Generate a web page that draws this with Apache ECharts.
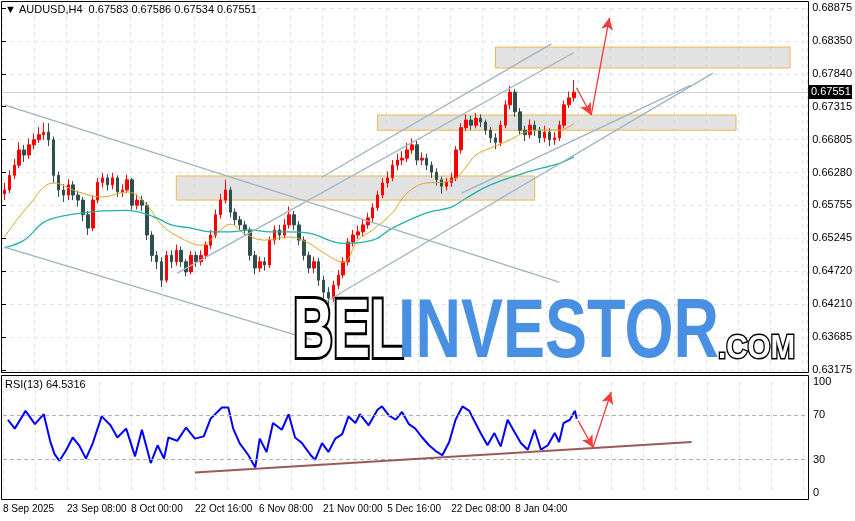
<!DOCTYPE html>
<html><head><meta charset="utf-8">
<script src="https://cdn.jsdelivr.net/npm/echarts@6/dist/echarts.min.js"></script>
<style>html,body{margin:0;padding:0;background:#fff}#c{width:855px;height:521px}</style>
</head><body><div id="c"></div>
<script>
const priceLabels=['0.63175','0.63685','0.64210','0.64720','0.65245','0.65755','0.66280','0.66805','0.67315','0.67840','0.68350','0.68875'];
const timeLabels=['8 Sep 2025','23 Sep 08:00','8 Oct 00:00','22 Oct 16:00','6 Nov 08:00','21 Nov 00:00','5 Dec 16:00','22 Dec 08:00','8 Jan 04:00'];
const opens=[.6595,.6601,.6624,.6640,.6664,.6656,.6672,.6680,.6688,.6692,.6680,.6624,.6601,.6593,.6609,.6593,.6585,.6562,.6541,.6585,.6613,.6620,.6609,.6620,.6598,.6601,.6617,.6577,.6585,.6577,.6530,.6498,.6488,.6459,.6498,.6488,.6506,.6488,.6472,.6498,.6488,.6498,.6514,.6530,.6562,.6585,.6601,.6566,.6554,.6546,.6538,.6498,.6478,.6488,.6483,.6522,.6538,.6530,.6546,.6562,.6546,.6522,.6498,.6478,.6488,.6459,.6440,.6431,.6451,.6467,.6488,.6519,.6530,.6535,.6546,.6557,.6573,.6593,.6612,.6620,.6640,.6648,.6651,.6664,.6672,.6648,.6651,.6640,.6629,.6617,.6607,.6613,.6620,.6664,.6699,.6711,.6703,.6714,.6708,.6695,.6683,.6676,.6703,.6735,.6755,.6724,.6695,.6688,.6703,.6695,.6683,.6692,.6680,.6683,.6703,.6735,.6746];
const closes=[.6601,.6624,.6640,.6664,.6656,.6672,.6680,.6688,.6692,.6680,.6624,.6601,.6593,.6609,.6593,.6585,.6562,.6541,.6585,.6613,.6620,.6609,.6620,.6598,.6601,.6617,.6577,.6585,.6577,.6530,.6498,.6488,.6459,.6498,.6488,.6506,.6488,.6472,.6498,.6488,.6498,.6514,.6530,.6562,.6585,.6601,.6566,.6554,.6546,.6538,.6498,.6478,.6488,.6483,.6522,.6538,.6530,.6546,.6562,.6546,.6522,.6498,.6478,.6488,.6459,.6440,.6431,.6451,.6467,.6488,.6519,.6530,.6535,.6546,.6557,.6573,.6593,.6612,.6620,.6640,.6648,.6651,.6664,.6672,.6648,.6651,.6640,.6629,.6617,.6607,.6613,.6620,.6664,.6699,.6711,.6703,.6714,.6708,.6695,.6683,.6676,.6703,.6735,.6755,.6724,.6695,.6688,.6703,.6695,.6683,.6692,.6680,.6683,.6703,.6735,.6746,.6755];
const highs=[.6612,.6632,.6650,.6676,.6672,.6682,.6690,.6700,.6707,.6706,.6685,.6630,.6610,.6618,.6615,.6600,.6590,.6568,.6592,.6620,.6628,.6626,.6628,.6624,.6610,.6625,.6620,.6594,.6592,.6582,.6536,.6505,.6495,.6505,.6506,.6515,.6512,.6492,.6505,.6504,.6506,.6520,.6538,.6570,.6595,.6617,.6606,.6572,.6560,.6552,.6542,.6505,.6496,.6495,.6528,.6545,.6546,.6555,.6575,.6568,.6552,.6528,.6504,.6496,.6494,.6466,.6448,.6458,.6475,.6495,.6525,.6538,.6545,.6555,.6565,.6580,.6600,.6620,.6630,.6648,.6658,.6662,.6675,.6682,.6678,.6660,.6658,.6646,.6635,.6622,.6620,.6628,.6670,.6706,.6720,.6718,.6722,.6720,.6712,.6700,.6690,.6710,.6742,.6765,.6760,.6730,.6702,.6712,.6710,.6700,.6702,.6698,.6692,.6710,.6742,.6756,.6774];
const lows=[.6585,.6596,.6618,.6635,.6645,.6650,.6665,.6675,.6680,.6670,.6612,.6590,.6582,.6585,.6585,.6575,.6552,.6530,.6536,.6580,.6605,.6600,.6602,.6590,.6590,.6596,.6570,.6570,.6568,.6522,.6488,.6476,.6448,.6455,.6478,.6482,.6480,.6465,.6468,.6480,.6482,.6492,.6508,.6525,.6556,.6580,.6558,.6546,.6538,.6530,.6490,.6468,.6472,.6474,.6478,.6515,.6522,.6525,.6540,.6538,.6514,.6490,.6470,.6470,.6450,.6430,.6420,.6425,.6445,.6462,.6482,.6512,.6524,.6528,.6540,.6550,.6568,.6588,.6605,.6615,.6632,.6640,.6645,.6658,.6640,.6640,.6632,.6620,.6608,.6595,.6600,.6606,.6615,.6658,.6694,.6695,.6698,.6700,.6688,.6675,.6665,.6670,.6698,.6728,.6716,.6688,.6678,.6682,.6686,.6675,.6676,.6670,.6672,.6678,.6698,.6730,.6740];
const maFastIdx=[0,5,10,15,20,25,29,32,36,40,44,46,49,53,58,62,65,69,72,75,79,82,86,89,92,94,96,99,103,106,109,113,116];
const maFast=[.6527,.6577,.6612,.6598,.6590,.6598,.6577,.6546,.6525,.6514,.6538,.6547,.6532,.6522,.6527,.6517,.6502,.6487,.6522,.6538,.6565,.6596,.6612,.6613,.6620,.6637,.6656,.6667,.6680,.6692,.6695,.6695,.6706];
const maSlowIdx=[0,4,8,12,16,20,25,28,31,34,38,42,46,50,54,58,62,69,75,79,86,91,94,99,106,113,116];
const maSlow=[.6510,.6522,.6550,.6560,.6565,.6568,.6569,.6565,.6557,.6546,.6541,.6535,.6535,.6538,.6535,.6535,.6533,.6517,.6522,.6541,.6565,.6574,.6588,.6609,.6628,.6643,.6653];
const rsiIdx=[0.5,1.9,4.1,6,7.8,9.1,10,11,12.3,13.7,15,16.4,17.8,19.6,21.4,22.8,24.6,26.4,27.8,29.6,31,32.3,33.2,35,36.8,38.6,40.4,41.8,44.1,45.4,46.4,47.7,49.5,50.9,51.8,53.2,54.5,56.3,57.7,59,60.4,62.2,63.1,64.5,65.8,67.2,68.6,69.9,71.3,72.2,74,75.8,76.7,78.1,79.5,80.8,82.2,83.5,84.9,86.3,87.6,89,90.4,91.7,93.1,94.5,95.4,96.8,98.2,99.6,100.9,102.3,103.7,105,106.4,107.8,109.1,110.5,111.9,112.8,113.7,115,116,116.4];
const rsiVals=[66,58,74,62,71,47,35,29,38,50,43,31,45,69,61,50,58,33,57,27,43,31,50,47,59,49,51,67,77,77,58,45,34,23,49,37,63,57,71,50,45,34,30,45,37,49,53,69,63,71,61,75,78,70,66,73,62,58,50,43,38,34,46,66,78,74,66,54,43,54,42,66,55,45,39,57,39,43,54,46,63,66,74,67];
// zones [slotFrom, slotTo, priceTop, priceBottom]
const zones=[[35,108,.6623,.6585],[76,149,.6719,.6695],[100,160,.6826,.6793]];
// trend lines [slot1, price1, slot2, price2]
const trendLines=[[0,.6735,113,.6456],[0,.6511,62.6,.6365],[35.2,.6470,115.9,.6817],[64.6,.6621,111.4,.6831],[65,.6423,144.3,.6785],[93.1,.6596,139.8,.6766]];
const priceArrows=[[116.5,.6762,119.5,.6719],[119.5,.6719,123.2,.6872]];
const rsiArrows=[[116.7,65,119.7,41],[119.7,41,123.4,91]];
const rsiTrend=[38.6,18.5,139.8,46];
const lastPrice=0.67551;

const N=164, F='"Liberation Sans", Arial, sans-serif';
const cats=[...Array(N).keys()];
const candleData=closes.map((c,i)=>[opens[i],c,lows[i],highs[i]]);
const grey='#9fb3c3';
function ml(arr,color,w,arrow){return arr.map(a=>[{coord:[a[0],a[1]],symbol:'none'},{coord:[a[2],a[3]],symbol:arrow?'arrow':'none',symbolSize:arrow?[9,12]:0,lineStyle:{color,width:w,type:'solid'}}]);}
const chart=echarts.init(document.getElementById('c'),null,{renderer:'canvas'});
const gLeft=2,gRight=47;
chart.setOption({
 animation:false,
 textStyle:{fontFamily:F},
 grid:[{left:gLeft,right:gRight,top:8,bottom:151},{left:gLeft,right:gRight,top:382,bottom:28}],
 xAxis:[
  {type:'category',gridIndex:0,data:cats,show:false,boundaryGap:true},
  {type:'value',gridIndex:0,min:-0.5,max:163.5,show:false},
  {type:'value',gridIndex:0,min:0,max:25.148,interval:1,axisLine:{show:false},axisTick:{show:false},axisLabel:{show:false},splitLine:{show:true,lineStyle:{color:'#e4e4e4',type:[4,4]}}},
  {type:'value',gridIndex:1,min:-0.5,max:163.5,show:false},
  {type:'value',gridIndex:1,min:0,max:25.148,interval:1,position:'bottom',offset:7,axisLine:{show:false,onZero:false},axisTick:{show:false},
   axisLabel:{show:true,margin:4,align:'left',color:'#000',fontSize:10,fontFamily:F,formatter:v=>(v%2===0&&timeLabels[v/2])?timeLabels[v/2]:''},
   splitLine:{show:true,lineStyle:{color:'#e4e4e4',type:[4,4]}}}
 ],
 yAxis:[
  {type:'value',gridIndex:0,min:0.63175,max:0.68875,show:false},
  {type:'value',gridIndex:0,min:0,max:11,interval:1,position:'right',offset:0,axisLine:{show:false},
   axisTick:{show:true,length:4,lineStyle:{color:'#000'}},
   axisLabel:{color:'#000',fontSize:11,fontFamily:F,margin:5,formatter:v=>priceLabels[v]},
   splitLine:{show:true,lineStyle:{color:'#e4e4e4',type:[4,4]}}},
  {type:'value',gridIndex:1,min:0,max:100,interval:10,position:'right',axisLine:{show:false},axisTick:{show:false},
   axisLabel:{color:'#000',fontSize:11,fontFamily:F,margin:5,formatter:v=>[0,30,70,100].includes(v)?String(v):''},splitLine:{show:false}}
 ],
 series:[
  {type:'line',xAxisIndex:1,yAxisIndex:0,data:zones.map(()=>null),silent:true,
   markArea:{silent:true,itemStyle:{color:'rgba(210,210,210,0.65)',borderColor:'#f2b84b',borderWidth:1},
    data:zones.map(z=>[{coord:[z[0],z[2]]},{coord:[z[1],z[3]]}])}},
  {type:'candlestick',xAxisIndex:0,yAxisIndex:0,data:candleData,barWidth:3,
   itemStyle:{color:'#ff0000',color0:'#2f4f4f',borderColor:'#ff0000',borderColor0:'#2f4f4f',borderWidth:1}},
  {type:'line',xAxisIndex:1,yAxisIndex:0,data:maFastIdx.map((x,i)=>[x,maFast[i]]),smooth:0.4,symbol:'none',lineStyle:{color:'#daa520',width:1}},
  {type:'line',xAxisIndex:1,yAxisIndex:0,data:maSlowIdx.map((x,i)=>[x,maSlow[i]]),smooth:0.4,symbol:'none',lineStyle:{color:'#20b2aa',width:1.3}},
  {type:'line',xAxisIndex:1,yAxisIndex:0,data:[],silent:true,
   markLine:{silent:true,animation:false,label:{show:false},symbol:['none','none'],lineStyle:{color:grey,width:1.3,type:'solid'},
    data:[...ml(trendLines,grey,1.3,false),...ml(priceArrows,'#f03c3c',1.3,true)]}},
  {type:'line',xAxisIndex:3,yAxisIndex:2,data:rsiIdx.map((x,i)=>[x,rsiVals[i]]),symbol:'none',lineStyle:{color:'#0000ff',width:2},
   markLine:{silent:true,label:{show:false},symbol:['none','none'],
    data:[{yAxis:70,lineStyle:{color:'#b0b0b0',type:[4,3],width:1}},{yAxis:30,lineStyle:{color:'#b0b0b0',type:[4,3],width:1}},
     ...ml([rsiTrend],'#9b5a5a',2,false),...ml(rsiArrows,'#f03c3c',1.3,true)]}}
 ]
});
const yLast=chart.convertToPixel({yAxisIndex:0},lastPrice);
chart.setOption({graphic:[
 {type:'line',shape:{x1:2,y1:Math.round(yLast)+0.5,x2:808,y2:Math.round(yLast)+0.5},style:{stroke:'#d0d0d0',lineWidth:1},z:1},
 {type:'rect',shape:{x:1.5,y:1.5,width:807,height:371},style:{fill:'none',stroke:'#000',lineWidth:1},z:100},
 {type:'rect',shape:{x:1.5,y:375.5,width:807,height:124},style:{fill:'none',stroke:'#000',lineWidth:1},z:100},
 {type:'text',x:5,y:4,style:{text:'▼ AUDUSD,H4  0.67583 0.67586 0.67534 0.67551',font:'11px '+F,fill:'#000'},z:101},
 {type:'text',x:5,y:379,style:{text:'RSI(13) 64.5316',font:'11px '+F,fill:'#000'},z:101},
 {type:'rect',shape:{x:809,y:yLast-7,width:43,height:14},style:{fill:'#000'},z:101},
 {type:'text',x:811,y:yLast-6,style:{text:'0.67551',font:'11px '+F,fill:'#fff'},z:102},
 {type:'text',x:293,y:292,scaleX:0.66,style:{text:'BEL',font:'bold 84px '+F,fill:'#fff',stroke:'#000',lineWidth:6,shadowBlur:4,shadowColor:'rgba(0,0,0,0.5)'},z:90},
 {type:'text',x:398,y:292,scaleX:0.75,style:{text:'INVESTOR',font:'bold 84px '+F,fill:'#4a90e2'},z:90},
 {type:'text',x:718,y:332,scaleX:0.87,style:{text:'.COM',font:'bold 34px '+F,fill:'#fff',stroke:'#000',lineWidth:3},z:90}
]});
</script></body></html>
